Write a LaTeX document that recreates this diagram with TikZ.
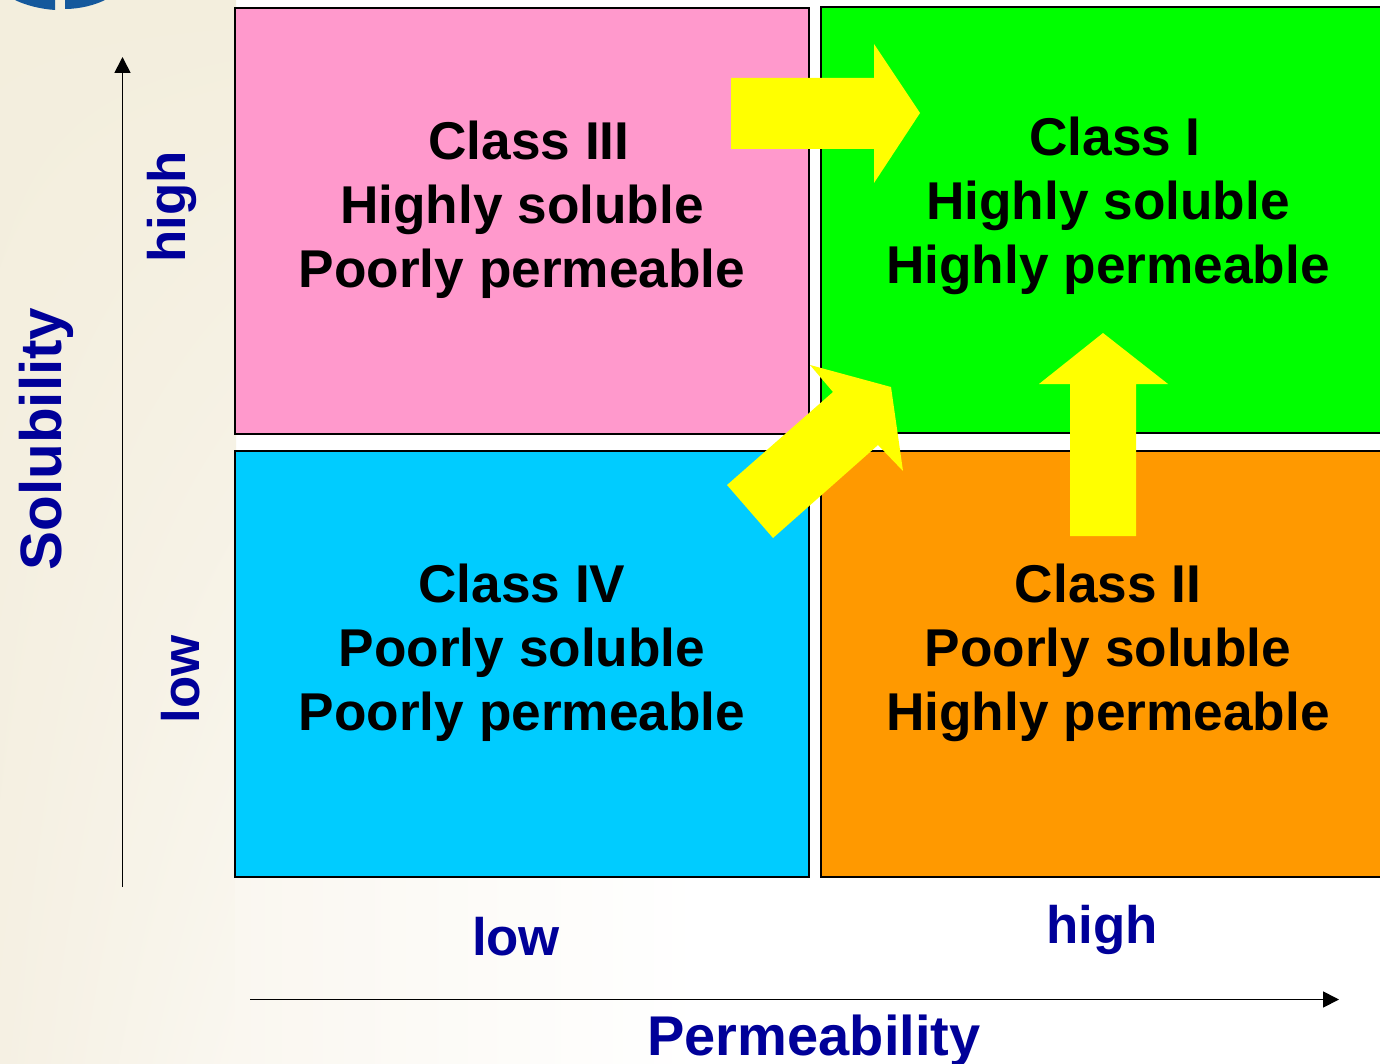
\documentclass[tikz,border=0pt]{standalone}
\usepackage{fontspec}
\setmainfont{Liberation Sans}
\usetikzlibrary{arrows.meta,shadings}
\definecolor{pinkbox}{HTML}{FF99CC}
\definecolor{greenbox}{HTML}{00FF00}
\definecolor{bluebox}{HTML}{00CCFF}
\definecolor{orangebox}{HTML}{FF9900}
\definecolor{axisnavy}{HTML}{000099}
\definecolor{blockyellow}{HTML}{FFFF00}
\definecolor{creamA}{HTML}{F3EEDD}
\definecolor{creamB}{HTML}{F5F0E3}
\definecolor{creamC}{HTML}{FAF7F0}
\definecolor{logoblue}{HTML}{14589C}
\tikzset{
  classbox/.style={draw=black,line width=1pt,inner sep=0pt,outer sep=0pt,minimum width=287.2pt,minimum height=213pt,anchor=north west},
  classtext/.style={font=\fontsize{26.6}{32}\selectfont\bfseries,align=center,text=black,anchor=center,inner sep=0pt},
  axistext/.style={font=\fontsize{26.4}{32}\selectfont\bfseries,text=axisnavy,inner sep=0pt},
  axistitle/.style={axistext,font=\fontsize{28}{32}\selectfont\bfseries},
  axisline/.style={draw=black,line width=0.85pt,-{Triangle[length=8pt,width=8pt]}},
  blockarrow/.style={fill=blockyellow,draw=none}
}
\begin{document}
\begin{tikzpicture}[x=0.5pt,y=-0.5pt]
\clip (0,0) rectangle (1380,1064);
% background
\fill[white] (0,0) rectangle (1380,1064);
\shade[upper left=creamA,upper right=creamA,lower left=creamB,lower right=creamC] (0,0) rectangle (236,1064);
\shade[upper left=creamC,upper right=white,lower left=creamC,lower right=white] (235,878) rectangle (700,1064);
% logo fragment
\fill[logoblue] (15,0) -- (55,0) -- (55,10) .. controls (40,9) and (25,5) .. (15,0) -- cycle;
\fill[logoblue] (65,0) -- (105,0) .. controls (95,5) and (80,9) .. (65,9) -- cycle;
% boxes
\node[classbox,fill=pinkbox] (c3) at (234.5,8) {};
\node[classbox,fill=greenbox] (c1) at (820.5,7) {};
\node[classbox,fill=bluebox] (c4) at (234.5,451) {};
\node[classbox,fill=orangebox] (c2) at (820.5,451) {};
% labels
\node[classtext] (t3) at (522,210) {\hspace*{7pt}Class III\\Highly soluble\\Poorly permeable};
\node[classtext] (t1) at (1108,206) {\hspace*{7pt}Class I\\Highly soluble\\Highly permeable};
\node[classtext] (t4) at (522,653) {Class IV\\Poorly soluble\\Poorly permeable};
\node[classtext] (t2) at (1108,653) {Class II\\Poorly soluble\\Highly permeable};
% block arrows
\fill[blockarrow] (731,78) -- (874,78) -- (874,44) -- (920,113) -- (874,183) -- (874,149) -- (731,149) -- cycle;
\fill[blockarrow] (727,485) -- (833,392) -- (810,365) -- (891,387) -- (903,471) -- (878,445) -- (773,538) -- cycle;
\fill[blockarrow] (1070,536) -- (1070,384) -- (1039,384) -- (1103,333) -- (1168,384) -- (1136,384) -- (1136,536) -- cycle;
% axes
\coordinate (vs) at (122.5,887);
\coordinate (ve) at (122.5,57);
\coordinate (hs) at (250,999.5);
\coordinate (he) at (1339,999.5);
\draw[axisline] (vs) -- (ve);
\draw[axisline] (hs) -- (he);
% axis labels
\node[axistitle,font=\fontsize{29.2}{32}\selectfont\bfseries,rotate=90] (sol) at (46,439) {Solubility};
\node[axistext,rotate=90] (shigh) at (172,207) {high};
\node[axistext,rotate=90] (slow) at (181,679) {low};
\node[axistext] (plow) at (516,937) {low};
\node[axistext] (phigh) at (1102,930) {high};
\node[axistitle] (perm) at (814,1041) {Permeability};
\end{tikzpicture}
\end{document}
